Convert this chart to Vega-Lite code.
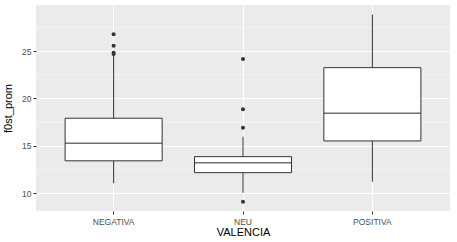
{
  "$schema": "https://vega.github.io/schema/vega-lite/v6.json",
  "width": 414,
  "height": 206,
  "autosize": {"type": "none"},
  "padding": {"left": 36, "top": 5, "right": 7, "bottom": 31},
  "background": "white",
  "config": {
    "view": {"fill": "#EBEBEB", "stroke": null},
    "font": "Liberation Sans",
    "axis": {
      "domain": false,
      "gridColor": "white",
      "gridWidth": 1.1,
      "tickColor": "#333333",
      "tickSize": 3,
      "labelColor": "#4D4D4D",
      "labelFontSize": 8.5,
      "labelFont": "Liberation Sans",
      "titleFont": "Liberation Sans",
      "titleFontWeight": "normal",
      "titleFontSize": 11,
      "titleColor": "black"
    }
  },
  "datasets": {
    "stats": [
      {"VALENCIA": "NEGATIVA", "lower": 11.03, "q1": 13.4, "median": 15.25, "q3": 17.9, "upper": 24.55},
      {"VALENCIA": "NEU", "lower": 10.03, "q1": 12.15, "median": 13.2, "q3": 13.84, "upper": 15.95},
      {"VALENCIA": "POSITIVA", "lower": 11.2, "q1": 15.5, "median": 18.42, "q3": 23.24, "upper": 28.85}
    ],
    "outliers": [
      {"VALENCIA": "NEGATIVA", "f0st_prom": 26.76},
      {"VALENCIA": "NEGATIVA", "f0st_prom": 25.56},
      {"VALENCIA": "NEGATIVA", "f0st_prom": 24.82},
      {"VALENCIA": "NEGATIVA", "f0st_prom": 24.68},
      {"VALENCIA": "NEU", "f0st_prom": 24.15},
      {"VALENCIA": "NEU", "f0st_prom": 18.84},
      {"VALENCIA": "NEU", "f0st_prom": 16.9},
      {"VALENCIA": "NEU", "f0st_prom": 9.09}
    ]
  },
  "layer": [
    {
      "data": {"values": [{"v": 12.5}, {"v": 17.5}, {"v": 22.5}, {"v": 27.5}]},
      "mark": {"type": "rule", "color": "white", "strokeWidth": 0.5},
      "encoding": {"y": {"field": "v", "type": "quantitative", "scale": {"domain": [8.1, 29.86], "nice": false, "zero": false}}}
    },
    {
      "data": {"name": "stats"},
      "mark": {"type": "rule", "color": "#333333", "strokeWidth": 1},
      "encoding": {
        "x": {"field": "VALENCIA", "type": "nominal",
              "scale": {"type": "band", "paddingInner": 0.25, "paddingOuter": 0.225},
              "axis": {"labelAngle": 0, "title": "VALENCIA", "grid": true, "bandPosition": 0.5, "titlePadding": 1, "labelPadding": 3}},
        "y": {"field": "lower", "type": "quantitative",
              "scale": {"domain": [8.1, 29.86], "nice": false, "zero": false},
              "axis": {"title": "f0st_prom", "values": [10, 15, 20, 25], "grid": true, "titlePadding": 8, "labelPadding": 2}},
        "y2": {"field": "upper"}
      }
    },
    {
      "data": {"name": "stats"},
      "mark": {"type": "bar", "fill": "white", "stroke": "#333333", "strokeWidth": 1},
      "encoding": {
        "x": {"field": "VALENCIA", "type": "nominal"},
        "y": {"field": "q1", "type": "quantitative"},
        "y2": {"field": "q3"}
      }
    },
    {
      "data": {"name": "stats"},
      "mark": {"type": "tick", "color": "#333333", "thickness": 1.6, "bandSize": 0},
      "encoding": {
        "x": {"field": "VALENCIA", "type": "nominal"},
        "y": {"field": "median", "type": "quantitative"},
        "size": {"value": 97}
      }
    },
    {
      "data": {"name": "outliers"},
      "mark": {"type": "circle", "color": "#333333", "opacity": 1, "size": 16},
      "encoding": {
        "x": {"field": "VALENCIA", "type": "nominal"},
        "y": {"field": "f0st_prom", "type": "quantitative"}
      }
    }
  ]
}
